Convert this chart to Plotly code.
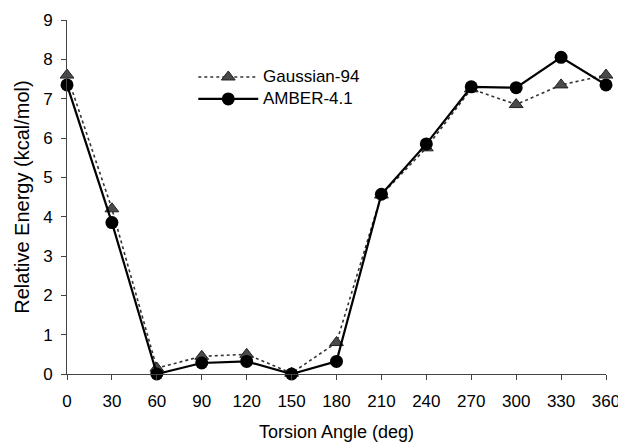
import plotly.graph_objects as go

angles = [0, 30, 60, 90, 120, 150, 180, 210, 240, 270, 300, 330, 360]
gaussian_94 = [7.6, 4.2, 0.15, 0.45, 0.5, 0.02, 0.8, 4.55, 5.75, 7.25, 6.85, 7.35, 7.6]
amber_41 = [7.35, 3.85, 0.0, 0.28, 0.32, 0.0, 0.32, 4.57, 5.85, 7.3, 7.28, 8.05, 7.35]
series_names = ["Gaussian-94", "AMBER-4.1"]
x_ticks = list(range(0, 361, 30))
y_ticks = list(range(0, 10))

FONT = "Liberation Sans, Arial, sans-serif"
tri_style = dict(symbol="triangle-up", size=12, color="#4a4a4a",
                 line=dict(color="#222222", width=1))
circ_style = dict(symbol="circle", size=13, color="black")

fig = go.Figure()
fig.add_trace(go.Scatter(x=angles, y=gaussian_94, mode="lines+markers",
                         name=series_names[0],
                         line=dict(color="#333333", width=1.6, dash="dot"),
                         marker=tri_style, showlegend=False, cliponaxis=False))
fig.add_trace(go.Scatter(x=angles, y=amber_41, mode="lines+markers",
                         name=series_names[1],
                         line=dict(color="black", width=2.2),
                         marker=circ_style, showlegend=False, cliponaxis=False))

# legend key drawn on a hidden overlay axis (paper-like 0..1 coordinates)
leg_x = [0.2436, 0.2992, 0.3548]
leg_y = [0.839, 0.777]
fig.add_trace(go.Scatter(x=leg_x, y=[leg_y[0]] * 3, xaxis="x2", yaxis="y2",
                         mode="lines", line=dict(color="#333333", width=1.6, dash="dot"),
                         showlegend=False, hoverinfo="skip"))
fig.add_trace(go.Scatter(x=[leg_x[1]], y=[leg_y[0]], xaxis="x2", yaxis="y2",
                         mode="markers", marker=tri_style, showlegend=False, hoverinfo="skip"))
fig.add_trace(go.Scatter(x=leg_x, y=[leg_y[1]] * 3, xaxis="x2", yaxis="y2",
                         mode="lines", line=dict(color="black", width=2.2),
                         showlegend=False, hoverinfo="skip"))
fig.add_trace(go.Scatter(x=[leg_x[1]], y=[leg_y[1]], xaxis="x2", yaxis="y2",
                         mode="markers", marker=circ_style, showlegend=False, hoverinfo="skip"))
for name, yy in zip(series_names, leg_y):
    fig.add_annotation(x=0.362, y=yy, xref="x2", yref="y2", text=name,
                       showarrow=False, xanchor="left", yanchor="middle",
                       borderpad=0,
                       font=dict(family=FONT, size=17, color="black"))

axis_common = dict(showgrid=False, zeroline=False, showline=True,
                   linecolor="#444444", linewidth=1, ticks="outside",
                   ticklen=5, tickcolor="#444444", ticklabeloverflow="allow",
                   automargin=False,
                   tickfont=dict(family=FONT, size=17, color="black"))
fig.update_layout(
    template="none",
    width=618, height=445,
    margin=dict(l=67, r=12, t=20, b=71, autoexpand=False),
    paper_bgcolor="white", plot_bgcolor="white",
    font=dict(family=FONT, size=17, color="black"),
    xaxis=dict(range=[0, 360], tickvals=x_ticks, ticklabelstandoff=7,
               title=dict(text="Torsion Angle (deg)", standoff=14,
                          font=dict(family=FONT, size=18)),
               **axis_common),
    yaxis=dict(range=[0, 9], tickvals=y_ticks, ticklabelstandoff=5,
               title=dict(text="Relative Energy (kcal/mol)", standoff=8,
                          font=dict(family=FONT, size=20)),
               **axis_common),
    xaxis2=dict(range=[0, 1], overlaying="x", visible=False, fixedrange=True),
    yaxis2=dict(range=[0, 1], overlaying="y", visible=False, fixedrange=True),
)

fig.write_html("out.html")
